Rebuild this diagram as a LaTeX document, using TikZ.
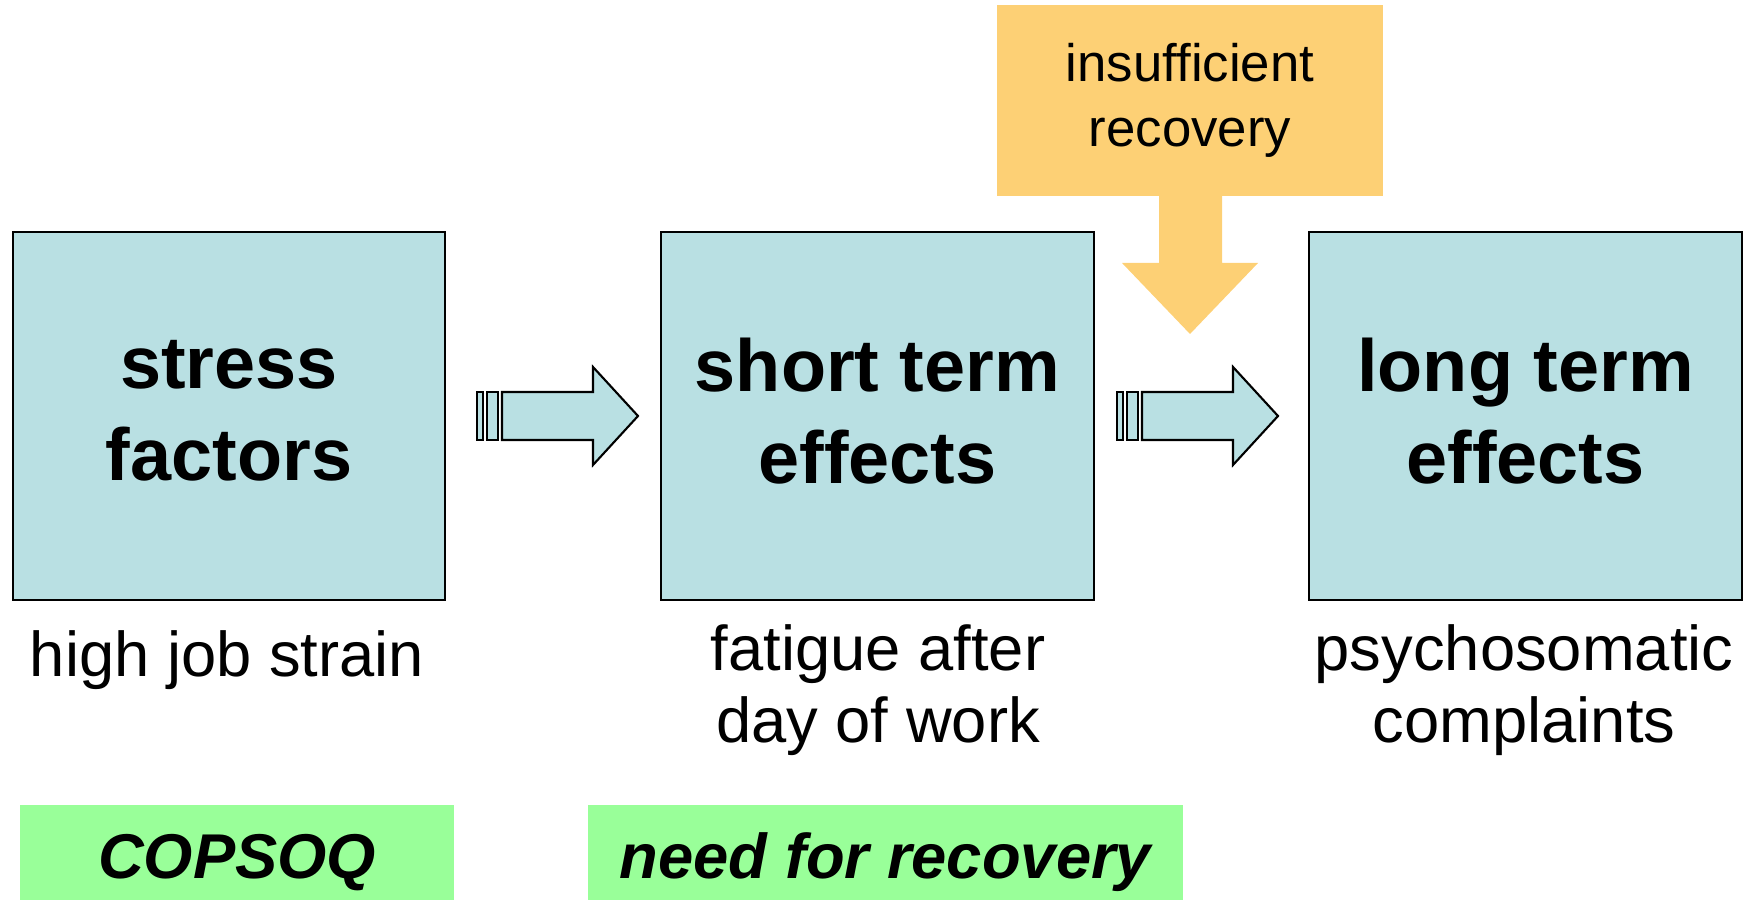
\documentclass[tikz,border=0pt]{standalone}
\usepackage{fontspec}
\setmainfont{Liberation Sans}
\usepackage{tikz}

\definecolor{stageblue}{HTML}{B9E0E3}
\definecolor{recovorange}{HTML}{FDD075}
\definecolor{measgreen}{HTML}{99FF99}

\tikzset{
  stage/.style={draw=black, fill=stageblue, line width=0.6pt, minimum width=4.32cm,
    minimum height=3.68cm, align=center, text depth=0.11cm,
    font=\fontsize{21}{26.1}\selectfont\bfseries},
  effect/.style={align=center, font=\fontsize{18}{20.5}\selectfont},
  measure/.style={fill=measgreen, minimum height=0.95cm, inner ysep=0pt, text height=0.64cm,
    text depth=0.13cm, font=\fontsize{18}{21}\selectfont\bfseries\itshape},
  blockline/.style={draw=black, fill=stageblue, line width=0.6pt, line join=miter}
}

% striped block arrow, tail at (#1,#2)
\newcommand{\stripedarrow}[2]{%
  \begin{scope}[shift={(#1,#2)}]
    \path[blockline] (0,-24) rectangle (6,24);
    \path[blockline] (10,-24) rectangle (21,24);
    \path[blockline] (25,-24) -- (116,-24) -- (116,-49) -- (161,0) -- (116,49) -- (116,24) -- (25,24) -- cycle;
  \end{scope}}

\begin{document}
\begin{tikzpicture}[x=0.01cm,y=-0.01cm]
\useasboundingbox (0,0) rectangle (1746,901);

\node[stage](S) at (229,416) {stress\\factors};
\node[stage, minimum width=4.33cm](ST) at (877.5,416) {short term\\effects};
\node[stage](LT) at (1525.5,416) {long term\\effects};

\node[effect](hs) at (227,660) {high job strain};
\node[effect](fa) at (878,690) {fatigue after\\day of work};
\node[effect](pc) at (1524,690) {psychosomatic\\complaints};

\node[measure, minimum width=4.34cm](cq) at (237,852.5) {COPSOQ};
\node[measure, minimum width=5.95cm](nr) at (885.5,852.5) {need for recovery};

% insufficient recovery callout
\node[fill=recovorange, minimum width=3.86cm, minimum height=1.91cm, align=center,
  font=\fontsize{15}{18.5}\selectfont](IR) at (1190,100.5) {insufficient\\recovery};
\fill[recovorange] (1159,195) -- (1159,263) -- (1122,263) -- (1190,334) -- (1258,263)
  -- (1222,263) -- (1222,195) -- cycle;

\stripedarrow{477}{416}
\stripedarrow{1117}{416}
\end{tikzpicture}
\end{document}
